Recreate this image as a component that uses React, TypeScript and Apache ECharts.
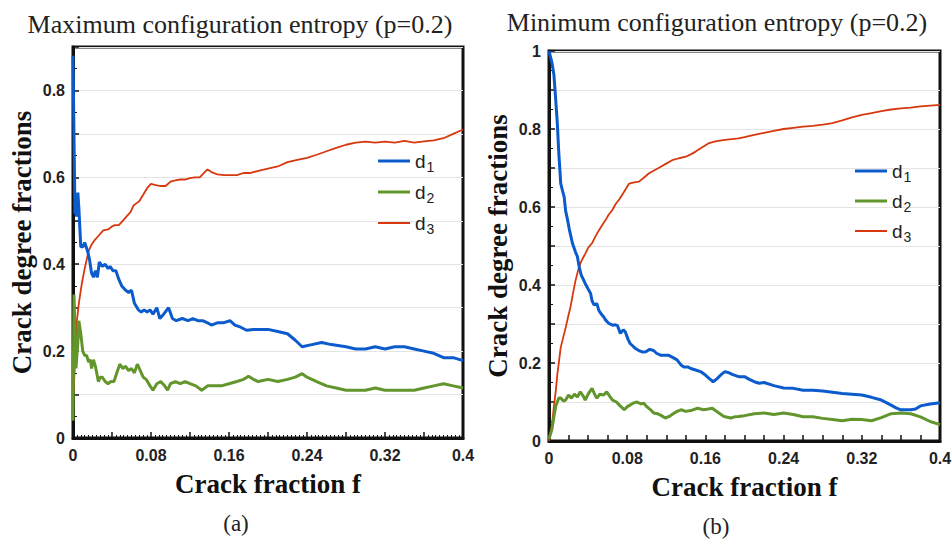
import React, { useEffect, useRef } from "react";
import * as echarts from "echarts";

// ---------- data: [crack fraction f, degree fraction] ----------
const panelTitles = ["Maximum configuration entropy (p=0.2)", "Minimum configuration entropy (p=0.2)"];
const panelCaptions = ["(a)", "(b)"];
const seriesNames = ["d1", "d2", "d3"];
const xTickLabels = ["0", "0.08", "0.16", "0.24", "0.32", "0.4"];

const maxD1: number[][] = [
  [0, 0.88], [0.001, 0.7], [0.002, 0.52], [0.004, 0.51], [0.005, 0.565], [0.006, 0.53], [0.008, 0.44], [0.01, 0.44],
  [0.012, 0.45], [0.015, 0.43], [0.017, 0.41], [0.019, 0.38], [0.021, 0.37], [0.023, 0.385], [0.025, 0.37], [0.027, 0.405],
  [0.03, 0.395], [0.033, 0.4], [0.036, 0.39], [0.038, 0.395], [0.041, 0.385], [0.044, 0.385], [0.047, 0.365], [0.05, 0.35],
  [0.054, 0.34], [0.057, 0.335], [0.06, 0.34], [0.063, 0.31], [0.067, 0.295], [0.07, 0.29], [0.073, 0.295], [0.076, 0.29],
  [0.079, 0.295], [0.082, 0.285], [0.086, 0.3], [0.089, 0.275], [0.093, 0.285], [0.098, 0.3], [0.102, 0.275], [0.106, 0.27],
  [0.112, 0.275], [0.118, 0.27], [0.123, 0.275], [0.128, 0.27], [0.133, 0.27], [0.138, 0.265], [0.142, 0.26], [0.148, 0.265],
  [0.154, 0.265], [0.161, 0.27], [0.166, 0.26], [0.172, 0.255], [0.178, 0.248], [0.185, 0.25], [0.192, 0.25], [0.2, 0.25],
  [0.21, 0.245], [0.22, 0.24], [0.228, 0.225], [0.235, 0.21], [0.245, 0.215], [0.255, 0.22], [0.265, 0.215], [0.28, 0.21],
  [0.29, 0.205], [0.3, 0.205], [0.31, 0.21], [0.32, 0.205], [0.33, 0.21], [0.34, 0.21], [0.35, 0.205], [0.36, 0.2],
  [0.37, 0.195], [0.38, 0.185], [0.39, 0.185], [0.4, 0.178],
];
const maxD2: number[][] = [
  [0, 0.04], [0.001, 0.33], [0.002, 0.25], [0.003, 0.16], [0.005, 0.22], [0.006, 0.27], [0.008, 0.24], [0.01, 0.2],
  [0.012, 0.19], [0.014, 0.19], [0.016, 0.175], [0.018, 0.18], [0.019, 0.16], [0.021, 0.18], [0.023, 0.165], [0.026, 0.13],
  [0.028, 0.14], [0.03, 0.14], [0.033, 0.13], [0.036, 0.125], [0.039, 0.13], [0.042, 0.13], [0.045, 0.15], [0.048, 0.17],
  [0.051, 0.16], [0.054, 0.165], [0.057, 0.155], [0.06, 0.16], [0.063, 0.15], [0.066, 0.17], [0.069, 0.155], [0.072, 0.14],
  [0.075, 0.135], [0.079, 0.12], [0.082, 0.11], [0.086, 0.125], [0.09, 0.13], [0.094, 0.12], [0.097, 0.11], [0.1, 0.125],
  [0.105, 0.13], [0.11, 0.125], [0.115, 0.13], [0.12, 0.125], [0.126, 0.12], [0.132, 0.11], [0.138, 0.12], [0.145, 0.12],
  [0.152, 0.12], [0.16, 0.125], [0.168, 0.13], [0.175, 0.135], [0.18, 0.142], [0.185, 0.135], [0.19, 0.13], [0.2, 0.135],
  [0.21, 0.13], [0.22, 0.135], [0.228, 0.14], [0.235, 0.148], [0.24, 0.14], [0.25, 0.13], [0.26, 0.12], [0.27, 0.115],
  [0.28, 0.11], [0.29, 0.11], [0.3, 0.11], [0.31, 0.115], [0.32, 0.11], [0.33, 0.11], [0.34, 0.11], [0.35, 0.11],
  [0.36, 0.115], [0.37, 0.12], [0.38, 0.125], [0.39, 0.12], [0.4, 0.115],
];
const maxD3: number[][] = [
  [0, 0.08], [0.002, 0.17], [0.004, 0.27], [0.006, 0.31], [0.009, 0.355], [0.012, 0.39], [0.016, 0.43], [0.019, 0.445],
  [0.022, 0.455], [0.026, 0.465], [0.031, 0.478], [0.036, 0.48], [0.04, 0.487], [0.043, 0.49], [0.047, 0.49], [0.051, 0.5],
  [0.055, 0.51], [0.059, 0.52], [0.062, 0.535], [0.065, 0.54], [0.068, 0.545], [0.072, 0.56], [0.076, 0.575], [0.08, 0.585],
  [0.085, 0.582], [0.09, 0.58], [0.095, 0.58], [0.1, 0.59], [0.105, 0.593], [0.11, 0.595], [0.115, 0.595], [0.12, 0.598],
  [0.125, 0.6], [0.13, 0.6], [0.135, 0.612], [0.138, 0.618], [0.142, 0.612], [0.148, 0.607], [0.155, 0.605], [0.162, 0.605],
  [0.168, 0.605], [0.175, 0.61], [0.182, 0.61], [0.19, 0.615], [0.2, 0.62], [0.21, 0.625], [0.22, 0.635], [0.23, 0.64],
  [0.24, 0.645], [0.25, 0.652], [0.26, 0.66], [0.27, 0.668], [0.28, 0.675], [0.29, 0.68], [0.3, 0.682], [0.31, 0.68],
  [0.32, 0.682], [0.33, 0.68], [0.34, 0.684], [0.35, 0.68], [0.36, 0.683], [0.37, 0.685], [0.38, 0.69], [0.39, 0.7], [0.4, 0.71],
];
const minD1: number[][] = [
  [0, 1.0], [0.003, 0.97], [0.005, 0.94], [0.007, 0.87], [0.0085, 0.815], [0.01, 0.74], [0.012, 0.66], [0.014, 0.64],
  [0.0155, 0.626], [0.017, 0.59], [0.019, 0.567], [0.021, 0.54], [0.024, 0.507], [0.027, 0.485], [0.029, 0.473], [0.031, 0.445],
  [0.033, 0.425], [0.035, 0.415], [0.037, 0.404], [0.04, 0.39], [0.0425, 0.379], [0.044, 0.36], [0.046, 0.349], [0.049, 0.352],
  [0.051, 0.335], [0.053, 0.327], [0.056, 0.318], [0.058, 0.31], [0.061, 0.302], [0.065, 0.297], [0.068, 0.298], [0.07, 0.296],
  [0.073, 0.276], [0.076, 0.285], [0.078, 0.28], [0.081, 0.26], [0.083, 0.25], [0.086, 0.243], [0.088, 0.238], [0.092, 0.232],
  [0.096, 0.228], [0.099, 0.229], [0.103, 0.235], [0.107, 0.232], [0.11, 0.225], [0.114, 0.22], [0.118, 0.22], [0.122, 0.22],
  [0.126, 0.215], [0.131, 0.208], [0.135, 0.195], [0.138, 0.19], [0.142, 0.19], [0.145, 0.186], [0.15, 0.182], [0.155, 0.178],
  [0.16, 0.169], [0.164, 0.16], [0.168, 0.152], [0.172, 0.16], [0.176, 0.17], [0.18, 0.178], [0.184, 0.175], [0.188, 0.17],
  [0.194, 0.165], [0.2, 0.165], [0.205, 0.158], [0.21, 0.152], [0.215, 0.148], [0.22, 0.15], [0.23, 0.142], [0.24, 0.136],
  [0.25, 0.135], [0.26, 0.13], [0.27, 0.13], [0.28, 0.128], [0.29, 0.125], [0.3, 0.122], [0.31, 0.12], [0.32, 0.118],
  [0.33, 0.112], [0.34, 0.105], [0.35, 0.092], [0.355, 0.085], [0.36, 0.08], [0.37, 0.08], [0.375, 0.082], [0.38, 0.09],
  [0.39, 0.095], [0.4, 0.098],
];
const minD2: number[][] = [
  [0, 0.005], [0.003, 0.03], [0.005, 0.062], [0.007, 0.09], [0.0085, 0.1], [0.01, 0.11], [0.012, 0.11], [0.015, 0.102],
  [0.017, 0.105], [0.02, 0.118], [0.023, 0.11], [0.026, 0.12], [0.029, 0.113], [0.032, 0.126], [0.035, 0.115], [0.037, 0.105],
  [0.04, 0.12], [0.044, 0.135], [0.047, 0.118], [0.049, 0.11], [0.052, 0.12], [0.056, 0.118], [0.059, 0.126], [0.062, 0.115],
  [0.065, 0.105], [0.069, 0.1], [0.072, 0.092], [0.075, 0.085], [0.077, 0.08], [0.08, 0.088], [0.083, 0.092], [0.086, 0.097],
  [0.09, 0.1], [0.094, 0.095], [0.097, 0.097], [0.1, 0.088], [0.104, 0.08], [0.107, 0.072], [0.111, 0.07], [0.115, 0.065],
  [0.119, 0.059], [0.123, 0.063], [0.127, 0.07], [0.131, 0.076], [0.135, 0.08], [0.14, 0.076], [0.145, 0.078], [0.152, 0.084],
  [0.158, 0.08], [0.163, 0.082], [0.167, 0.084], [0.172, 0.075], [0.176, 0.068], [0.179, 0.063], [0.186, 0.059], [0.19, 0.062],
  [0.194, 0.063], [0.2, 0.065], [0.21, 0.07], [0.22, 0.072], [0.23, 0.068], [0.24, 0.072], [0.25, 0.068], [0.26, 0.062],
  [0.27, 0.062], [0.28, 0.058], [0.29, 0.055], [0.3, 0.052], [0.31, 0.056], [0.32, 0.055], [0.33, 0.052], [0.34, 0.06],
  [0.35, 0.07], [0.36, 0.072], [0.37, 0.07], [0.38, 0.062], [0.39, 0.05], [0.4, 0.042],
];
const minD3: number[][] = [
  [0, 0], [0.003, 0.04], [0.005, 0.088], [0.007, 0.13], [0.0085, 0.17], [0.01, 0.2], [0.012, 0.24], [0.0145, 0.265],
  [0.017, 0.29], [0.0195, 0.318], [0.022, 0.344], [0.0245, 0.378], [0.027, 0.41], [0.0295, 0.435], [0.032, 0.455], [0.0345, 0.468],
  [0.037, 0.48], [0.04, 0.495], [0.044, 0.507], [0.047, 0.522], [0.051, 0.54], [0.054, 0.552], [0.058, 0.567], [0.061, 0.58],
  [0.065, 0.593], [0.068, 0.607], [0.072, 0.62], [0.077, 0.64], [0.082, 0.66], [0.087, 0.663], [0.092, 0.665], [0.097, 0.675],
  [0.102, 0.686], [0.107, 0.693], [0.112, 0.7], [0.119, 0.71], [0.126, 0.72], [0.133, 0.725], [0.14, 0.729], [0.145, 0.735],
  [0.15, 0.742], [0.156, 0.752], [0.163, 0.763], [0.17, 0.768], [0.18, 0.772], [0.187, 0.774], [0.194, 0.776], [0.2, 0.779],
  [0.21, 0.785], [0.22, 0.79], [0.23, 0.795], [0.24, 0.8], [0.25, 0.803], [0.26, 0.806], [0.27, 0.808], [0.28, 0.811],
  [0.29, 0.815], [0.3, 0.822], [0.31, 0.83], [0.32, 0.836], [0.33, 0.841], [0.34, 0.846], [0.35, 0.85], [0.36, 0.853],
  [0.37, 0.855], [0.38, 0.858], [0.39, 0.86], [0.4, 0.862],
];

const colors = ["#0b5bcc", "#62962c", "#d8380e"];
const widths = [3, 3, 1.8];
const legendIcons = ["path://M0,0h32v3h-32z", "path://M0,0h32v3h-32z", "path://M0,0h32v2h-32z"];

export default function App() {
  const ref = useRef<HTMLDivElement>(null);
  useEffect(() => {
    if (!ref.current) return;
    const chart = echarts.init(ref.current, null, { renderer: "svg" });
    const serif = "'Liberation Serif', 'DejaVu Serif', serif";
    const sans = "'Liberation Sans', Arial, sans-serif";
    const grids = [
      { left: 73, top: 47, width: 390, height: 391 },
      { left: 549, top: 51, width: 391, height: 390 },
    ];
    const tickLabelStyle = { color: "#222", fontWeight: "bold" as const, fontSize: 16, fontFamily: sans };
    const fmt = (v: number) => String(+v.toFixed(2));
    const xAxis = [0, 1].map((i) => ({
      type: "value",
      gridIndex: i,
      min: 0,
      max: 0.4,
      interval: i === 0 ? 0.04 : 0.02,
      name: "Crack fraction f",
      nameLocation: "middle",
      nameGap: 32,
      nameTextStyle: { fontFamily: serif, fontWeight: "bold", fontSize: 27, color: "#111" },
      axisLine: { show: true, onZero: false, lineStyle: { color: "#111", width: 3 } },
      axisTick: { show: true, inside: true, length: 6, lineStyle: { color: "#111", width: 1.5 } },
      minorTick: { show: i === 0, splitNumber: 10, length: 3, lineStyle: { color: "#111", width: 1 } },
      axisLabel: {
        ...tickLabelStyle,
        margin: 9,
        showMaxLabel: true,
        formatter: (v: number) => {
          const s = fmt(v);
          return xTickLabels.indexOf(s) >= 0 ? s : "";
        },
      },
      splitLine: { show: false },
    }));
    const yAxis = [0, 1].map((i) => ({
      type: "value",
      gridIndex: i,
      min: 0,
      max: i === 0 ? 0.9 : 1.0,
      interval: 0.1,
      name: "Crack degree fractions",
      nameLocation: "middle",
      nameGap: 38,
      nameTextStyle: { fontFamily: serif, fontWeight: "bold", fontSize: 27, color: "#111" },
      axisLine: { show: true, onZero: false, lineStyle: { color: "#111", width: 3 } },
      axisTick: { show: true, inside: true, length: 6, lineStyle: { color: "#111", width: 1.5 } },
      minorTick: { show: true, splitNumber: 2, length: 4, lineStyle: { color: "#111", width: 1 } },
      axisLabel: {
        ...tickLabelStyle,
        margin: 8,
        formatter: (v: number) => {
          const r = Math.round(v * 10);
          return r % 2 === 0 ? fmt(v) : "";
        },
      },
      splitLine: { show: true, lineStyle: { color: "#e4e4e4", width: 1 } },
    }));
    const panels = [
      [maxD1, maxD2, maxD3],
      [minD1, minD2, minD3],
    ];
    const series: any[] = [];
    panels.forEach((p, gi) =>
      p.forEach((d, k) =>
        series.push({
          type: "line",
          name: seriesNames[k],
          xAxisIndex: gi,
          yAxisIndex: gi,
          data: d,
          symbol: "none",
          smooth: false,
          clip: true,
          lineStyle: { color: colors[k], width: widths[k] },
          itemStyle: { color: colors[k] },
          z: 3 - k + 2,
        })
      )
    );
    const legendText = {
      color: "#222",
      fontFamily: sans,
      fontSize: 19,
      rich: {
        d: { fontSize: 19, fontFamily: sans, color: "#222", lineHeight: 22 },
        s: { fontSize: 14, fontFamily: sans, color: "#222", padding: [12, 0, 0, 1], lineHeight: 22 },
      },
    };
    const legendFmt = (n: string) => `{d|d}{s|${n.slice(1)}}`;
    const legendData = seriesNames.map((n, k) => ({ name: n, icon: legendIcons[k], itemStyle: { color: colors[k] } }));
    const option: any = {
      animation: false,
      backgroundColor: "#fff",
      grid: grids.map((g) => ({
        ...g,
        show: true,
        borderColor: "#111",
        borderWidth: 3,
        backgroundColor: "transparent",
        containLabel: false,
        outerBoundsMode: "none",
      })),
      xAxis,
      yAxis,
      series,
      legend: [
        { left: 373, top: 143, orient: "vertical", itemWidth: 32, itemHeight: 14, itemGap: 5, data: legendData, textStyle: legendText, formatter: legendFmt, selectedMode: false },
        { left: 850, top: 153, orient: "vertical", itemWidth: 32, itemHeight: 14, itemGap: 4, data: legendData, textStyle: legendText, formatter: legendFmt, selectedMode: false },
      ],
      graphic: [
        { type: "text", x: 240, y: 24, style: { text: panelTitles[0], fontFamily: serif, fontSize: 26, fill: "#222", textAlign: "center", textVerticalAlign: "middle" } },
        { type: "text", x: 717, y: 22, style: { text: panelTitles[1], fontFamily: serif, fontSize: 26, fill: "#222", textAlign: "center", textVerticalAlign: "middle" } },
        { type: "text", x: 236, y: 523, style: { text: panelCaptions[0], fontFamily: serif, fontSize: 23, fill: "#222", textAlign: "center", textVerticalAlign: "middle" } },
        { type: "text", x: 716, y: 526, style: { text: panelCaptions[1], fontFamily: serif, fontSize: 23, fill: "#222", textAlign: "center", textVerticalAlign: "middle" } },
      ],
    };
    chart.setOption(option);
    return () => chart.dispose();
  }, []);
  return <div ref={ref} style={{ width: 952, height: 539, position: "absolute", left: 0, top: 0 }} />;
}
